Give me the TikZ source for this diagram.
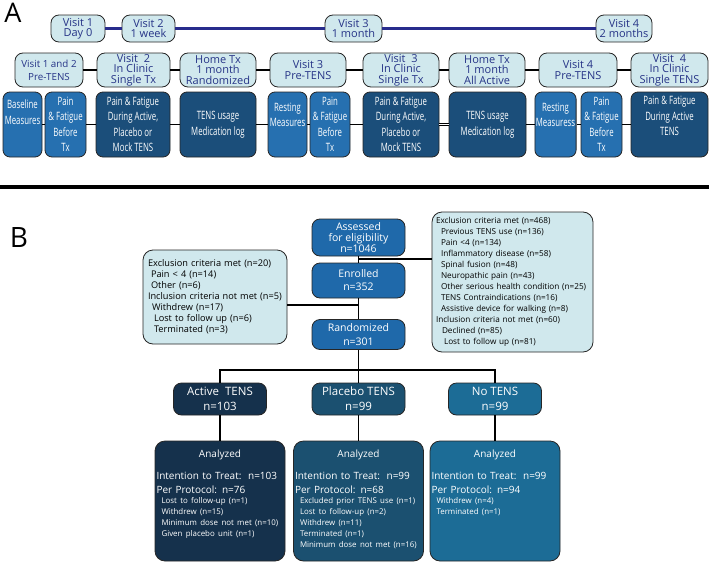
\documentclass[tikz,border=0pt]{standalone}
\usepackage{fontspec}
\setmainfont{Open Sans}
\newfontfamily\narrowfont{Open Sans}[FakeStretch=0.68]
\usepackage{tikz}
\usetikzlibrary{shapes.geometric, arrows}

\definecolor{paleblue}{RGB}{208,232,237}
\definecolor{visitblue}{RGB}{38,52,135}
\definecolor{midblue}{RGB}{38,112,176}
\definecolor{deepblue}{RGB}{27,78,122}
\definecolor{flowblue}{RGB}{31,105,170}
\definecolor{activeblue}{RGB}{21,49,76}
\definecolor{placeboblue}{RGB}{27,80,112}
\definecolor{notensblue}{RGB}{28,108,150}
\definecolor{lineblue}{RGB}{40,44,140}

\tikzstyle{visit} = [draw=black!85, line width=0.8pt, fill=paleblue, text=visitblue, rounded corners=8pt, align=center, inner sep=1pt, minimum height=27pt, font=\fontsize{11}{10}\selectfont]
\tikzstyle{phase} = [visit, minimum height=34pt, minimum width=76pt, font=\fontsize{11}{10.5}\selectfont]
\tikzstyle{measure} = [draw=black!85, line width=0.8pt, fill=midblue, text=white, rounded corners=7pt, align=center, inner sep=1pt, minimum width=40pt, minimum height=65pt, font=\narrowfont\fontsize{11.5}{15.5}\selectfont]
\tikzstyle{session} = [measure, fill=deepblue, minimum width=76pt]
\tikzstyle{link} = [line width=1.1pt]
\tikzstyle{timeline} = [line width=3pt, draw=lineblue]
\tikzstyle{flow} = [draw=black!85, line width=0.8pt, fill=flowblue, text=white, rounded corners=8pt, align=center, inner sep=1pt, minimum width=93pt, font=\fontsize{10.5}{13}\selectfont]
\tikzstyle{group} = [flow, minimum height=32pt, font=\fontsize{11.5}{15}\selectfont]
\tikzstyle{excl} = [draw=black!85, line width=0.8pt, fill=paleblue, rounded corners=10pt, align=left, inner ysep=0pt, font=\fontsize{8.2}{11}\selectfont]
\tikzstyle{analysis} = [draw=black!85, line width=0.8pt, text=white, rounded corners=10pt, text width=127pt, inner xsep=1.5pt, inner ysep=8pt, text height=8pt, text depth=96pt]

\begin{document}
\begin{tikzpicture}[x=1pt, y=-1pt]
\useasboundingbox (0,0) rectangle (709,562);

% --- Panel A ---
\node[font=\fontsize{27}{27}\selectfont] (labA) at (13,13) {A};

% visits
\node[visit, minimum width=54pt] (v1) at (78,28.5) {Visit 1\\Day 0};
\node[visit, minimum width=53pt] (v2) at (148.5,28.5) {Visit 2\\1 week};
\node[visit, minimum width=57pt] (v3) at (353.5,28.5) {Visit 3\\1 month};
\node[visit, minimum width=56pt] (v4) at (624,28.5) {Visit 4\\2 months};

% phases
\node[phase, minimum width=68pt, font=\fontsize{9.8}{13}\selectfont] (p1) at (49,70) {Visit 1 and 2\\Pre-TENS};
\node[phase, minimum width=73pt] (p2) at (133.5,70) {Visit\ \ 2\\In Clinic\\Single Tx};
\node[phase] (p3) at (218,70) {Home Tx\\1 month\\Randomized};
\node[phase] (p4) at (308,70) {Visit 3\\Pre-TENS};
\node[phase] (p5) at (401,70) {Visit\ \ 3\\In Clinic\\Single Tx};
\node[phase] (p6) at (487,70) {Home Tx\\1 month\\All Active};
\node[phase, minimum width=78pt] (p7) at (578,70) {Visit 4\\Pre-TENS};
\node[phase, minimum width=77pt] (p8) at (669.5,70) {Visit\ \ 4\\In Clinic\\Single TENS};

% measures
\node[measure, minimum width=39pt] (m1) at (22.5,124.5) {Baseline\\Measures\\[9pt]\mbox{}};
\node[measure, minimum width=41pt] (m2) at (65.5,124.5) {Pain\\\& Fatigue\\Before\\Tx};
\node[session, minimum width=74pt] (m3) at (133,124.5) {Pain \& Fatigue\\During Active,\\Placebo or\\Mock TENS};
\node[session] (m4) at (218,124.5) {TENS usage\\Medication log};
\node[measure, minimum width=39pt] (m5) at (287.5,124.5) {Resting\\Measures\\[4pt]\mbox{}};
\node[measure] (m6) at (330,124.5) {Pain\\\& Fatigue\\Before\\Tx};
\node[session] (m7) at (401,124.5) {Pain \& Fatigue\\During Active,\\Placebo or\\Mock TENS};
\node[session, minimum width=77pt] (m8) at (487.5,124.5) {TENS usage\\Medication log};
\node[measure, minimum width=41pt] (m9) at (555.5,124.5) {Resting\\Measuress\\[4pt]\mbox{}};
\node[measure, minimum width=41pt] (m10) at (601.5,124.5) {Pain\\\& Fatigue\\Before\\Tx};
\node[session, minimum width=77pt] (m11) at (669.5,124.5) {Pain \& Fatigue\\During Active\\TENS\\[1pt]\mbox{}};

% connections
\draw[timeline] (v1) -- (v2);
\draw[timeline] (v2) -- (v3);
\draw[timeline] (v3) -- (v4);
\foreach \a/\b in {p1/p2,p2/p3,p3/p4,p4/p5,p5/p6,p6/p7,p7/p8}
  \draw[link] (\a) -- (\b);
\foreach \a/\b in {m1/m2,m2/m3,m3/m4,m4/m5,m5/m6,m6/m7,m8/m9,m9/m10,m10/m11}
  \draw[link] (\a) -- (\b);
\draw[link, double, double distance=1.2pt] (m7) -- (m8);

% separator
\draw[line width=3.5pt] (0,187) -- (709,187);

% --- Panel B ---
\node[font=\fontsize{28}{28}\selectfont] (labB) at (19,238) {B};

% enrollment
\node[flow, minimum height=37pt, font=\fontsize{10.5}{11}\selectfont] (assess) at (358.5,237.5) {Assessed\\for eligibility\\n=1046};
\node[flow, minimum height=35pt] (enroll) at (358.5,280.5) {Enrolled\\n=352};
\node[flow, minimum height=30pt, font=\fontsize{10.5}{14}\selectfont] (random) at (358.5,334.5) {Randomized\\n=301};

% exclusions
\node[excl, text width=134pt, inner xsep=5pt, minimum height=94pt, font=\fontsize{9.2}{11}\selectfont] (exclL) at (215,297) {Exclusion criteria met (n=20)\\
\hspace*{3pt}Pain < 4 (n=14)\\
\hspace*{3pt}Other (n=6)\\
Inclusion criteria not met (n=5)\\
\hspace*{4pt}Withdrew (n=17)\\
\hspace*{6pt}Lost to follow up (n=6)\\
\hspace*{6pt}Terminated (n=3)};
\node[excl, text width=153pt, inner xsep=4pt, minimum height=140pt] (exclR) at (512.5,282) {Exclusion criteria met (n=468)\\
\hspace*{5pt}Previous TENS use (n=136)\\
\hspace*{5pt}Pain <4 (n=134)\\
\hspace*{5pt}Inflammatory disease (n=58)\\
\hspace*{5pt}Spinal fusion (n=48)\\
\hspace*{5pt}Neuropathic pain (n=43)\\
\hspace*{5pt}Other serious health condition (n=25)\\
\hspace*{5pt}TENS Contraindications (n=16)\\
\hspace*{5pt}Assistive device for walking (n=8)\\
Inclusion criteria not met (n=60)\\
\hspace*{6pt}Declined (n=85)\\
\hspace*{8pt}Lost to follow up (n=81)};

% groups
\node[group, fill=activeblue] (active) at (220,399) {Active\ \ TENS\\n=103};
\node[group, fill=placeboblue] (placebo) at (358.5,399) {Placebo TENS\\n=99};
\node[group, fill=notensblue] (notens) at (495,399) {No TENS\\n=99};

% analysis
\node[analysis, fill=activeblue] (anaA) at (220,501) {{\centering\fontsize{10}{12}\selectfont Analyzed\par}
\vspace{8pt}
{\fontsize{10}{14}\selectfont Intention to Treat:\ \ n=103\\Per Protocol: n=76\par}
{\fontsize{7.9}{10.8}\selectfont\leftskip=5pt Lost to follow-up (n=1)\\Withdrew (n=15)\\Minimum dose not met (n=10)\\Given placebo unit (n=1)\par}};
\node[analysis, fill=placeboblue] (anaP) at (358.5,501) {{\centering\fontsize{10}{12}\selectfont Analyzed\par}
\vspace{8pt}
{\fontsize{10}{14}\selectfont Intention to Treat:\ \ n=99\\Per Protocol: n=68\par}
{\fontsize{7.9}{10.8}\selectfont\leftskip=5pt Excluded prior TENS use (n=1)\\Lost to follow-up (n=2)\\Withdrew (n=11)\\Terminated (n=1)\\Minimum dose not met (n=16)\par}};
\node[analysis, fill=notensblue] (anaN) at (495,501) {{\centering\fontsize{10}{12}\selectfont Analyzed\par}
\vspace{8pt}
{\fontsize{10}{14}\selectfont Intention to Treat:\ \ n=99\\Per Protocol: n=94\par}
{\fontsize{7.9}{10.8}\selectfont\leftskip=5pt Withdrew (n=4)\\Terminated (n=1)\par}};

% connections
\coordinate (jr) at (358.5,259);
\coordinate (jl) at (358.5,305);
\coordinate (split) at (358.5,370);
\draw[link] (assess) -- (enroll);
\draw[link] (enroll) -- (random);
\draw[link] (jr) -- (exclR.west |- jr);
\draw[link] (jl) -- (exclL.east |- jl);
\draw[link] (random) -- (split);
\draw[link] (active) |- (split) -| (notens);
\draw[link] (split) -- (placebo);
\foreach \g/\a in {active/anaA,placebo/anaP,notens/anaN}
  \draw[link] (\g) -- (\a);

\end{tikzpicture}
\end{document}
